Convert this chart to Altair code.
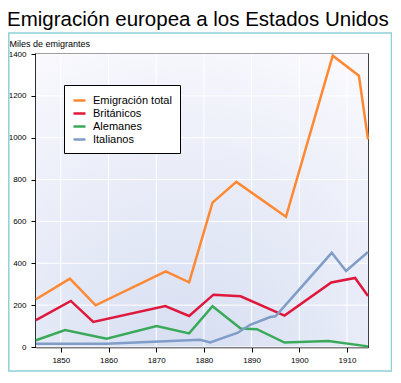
import altair as alt
import pandas as pd

FONT = "Liberation Sans"

series_names = ["Emigración total", "Británicos", "Alemanes", "Italianos"]
series_colors = ["#ff8833", "#e0173c", "#3aaa5a", "#7f9dc6"]

total_years = [1844.8, 1851.9, 1857.3, 1872.0, 1876.9, 1881.8, 1886.8, 1897.2, 1907.0, 1912.5, 1914.4]
total_vals = [228, 327, 199, 361, 309, 690, 789, 622, 1392, 1296, 992]

brit_years = [1844.8, 1852.1, 1856.8, 1871.9, 1876.9, 1882.0, 1887.7, 1896.9, 1906.7, 1911.7, 1914.4]
brit_vals = [128, 220, 120, 196, 148, 250, 242, 150, 308, 330, 244]

germ_years = [1844.8, 1850.9, 1859.6, 1870.1, 1876.9, 1881.8, 1887.7, 1891.1, 1896.9, 1906.1, 1914.4]
germ_vals = [32, 81, 40, 100, 65, 195, 88, 85, 21, 29, 3]

ital_years = [1844.8, 1859.6, 1879.2, 1881.3, 1887.0, 1889.7, 1893.9, 1895.0, 1906.8, 1909.8, 1914.4]
ital_vals = [15, 15, 35, 22, 67, 106, 143, 147, 450, 363, 454]

x_ticks = [1850, 1860, 1870, 1880, 1890, 1900, 1910]
y_ticks = [0, 200, 400, 600, 800, 1000, 1200, 1400]

rows = []
for name, yrs, vals in zip(series_names,
                           [total_years, brit_years, germ_years, ital_years],
                           [total_vals, brit_vals, germ_vals, ital_vals]):
    for i, (a, b) in enumerate(zip(yrs, vals)):
        rows.append({"serie": name, "anio": a, "miles": b, "orden": i})
df = pd.DataFrame(rows)

W, H = 332, 293
xscale = alt.Scale(domain=[1844.8, 1914.4], nice=False, zero=False)
yscale = alt.Scale(domain=[0, 1400], nice=False)

x_axis = alt.Axis(values=x_ticks, format="d", title=None, grid=False,
                  labelFontSize=8, labelFont=FONT, labelColor="#000000",
                  tickSize=5, tickColor="#000000", labelPadding=4,
                  domainColor="#000000", domainWidth=1.5)
y_axis = alt.Axis(values=y_ticks, format="d", title="Miles de emigrantes", grid=False,
                  labelFontSize=8, labelFont=FONT, labelColor="#000000",
                  tickSize=5, tickColor="#000000", labelPadding=5,
                  domainColor="#000000", domainWidth=1.5,
                  titleAngle=0, titleAlign="left", titleBaseline="alphabetic",
                  titleX=-27, titleY=-8, titleFont=FONT, titleFontSize=9,
                  titleFontWeight="normal", titleColor="#000000")

bg = alt.Chart(alt.Data(values=[{}])).mark_rect(
    fill=alt.Gradient(
        gradient="radial",
        stops=[alt.GradientStop(offset=0, color="#d5ddf1"),
               alt.GradientStop(offset=1, color="#f8f8fd")],
        x1=0.45, y1=1.0, x2=0.45, y2=1.0, r1=0, r2=1.0,
    ),
    strokeWidth=0,
).encode(x=alt.value(0), x2=alt.value(W), y=alt.value(0), y2=alt.value(H))

frame = alt.Chart(alt.Data(values=[{}])).mark_rect(
    fill=None, stroke="#8fd0d8", strokeWidth=1.5,
).encode(x=alt.value(-27.2), x2=alt.value(355.5), y=alt.value(-21), y2=alt.value(317))

title_txt = alt.Chart(alt.Data(values=[{}])).mark_text(
    align="left", baseline="alphabetic", font=FONT, fontSize=20.5, color="#000000",
).encode(x=alt.value(-29), y=alt.value(-28), text=alt.value("Emigración europea a los Estados Unidos"))

xgrid = alt.Chart(pd.DataFrame({"anio": x_ticks})).mark_rule(color="white", strokeWidth=1).encode(
    x=alt.X("anio:Q", scale=xscale, axis=x_axis)
)
ygrid = alt.Chart(pd.DataFrame({"miles": y_ticks})).mark_rule(color="white", strokeWidth=1).encode(
    y=alt.Y("miles:Q", scale=yscale, axis=y_axis)
)

lines = alt.Chart(df).mark_line(strokeWidth=2.5, interpolate="linear").encode(
    x=alt.X("anio:Q", scale=xscale, axis=x_axis),
    y=alt.Y("miles:Q", scale=yscale, axis=y_axis),
    color=alt.Color("serie:N",
                    scale=alt.Scale(domain=series_names, range=series_colors),
                    sort=series_names,
                    legend=alt.Legend(title=None, orient="none", legendX=28, legendY=31,
                                      fillColor="white", strokeColor="#000000",
                                      padding=8, symbolType="stroke", symbolSize=144,
                                      symbolStrokeWidth=2.5, labelFontSize=11,
                                      labelFont=FONT, labelColor="#000000",
                                      rowPadding=0, labelOffset=6)),
    order="orden:Q",
)

chart = alt.layer(bg, xgrid, ygrid, lines, frame, title_txt).properties(
    width=W, height=H,
    autosize=alt.AutoSizeParams(type="none"),
    padding={"left": 28, "top": 46, "right": 24, "bottom": 26},
).configure_view(stroke="#000000", strokeWidth=1.5)

chart.save("out.html", embed_options={"renderer": "svg", "actions": False})
